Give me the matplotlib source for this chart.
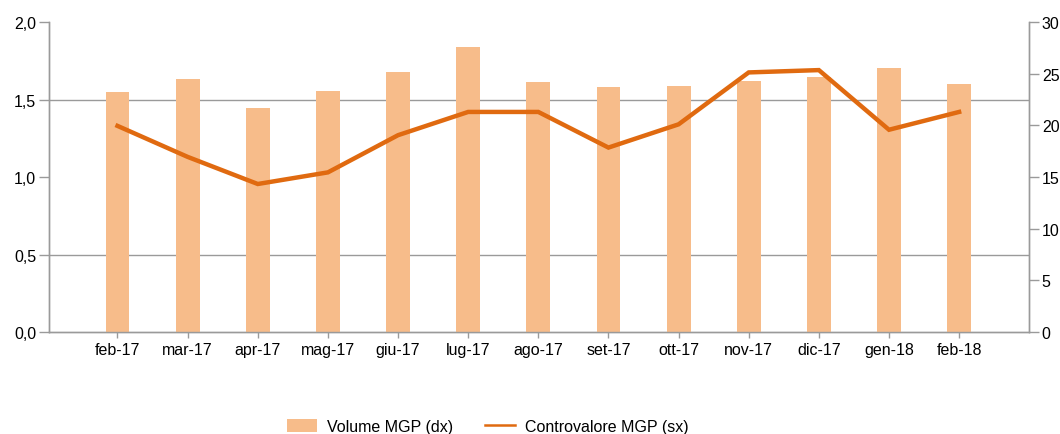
import matplotlib
matplotlib.use('Agg')
import matplotlib.pyplot as plt
import matplotlib.ticker as ticker
from matplotlib.patches import Patch
from matplotlib.lines import Line2D
import numpy as np

# dati
mesi = ['feb-17', 'mar-17', 'apr-17', 'mag-17', 'giu-17', 'lug-17', 'ago-17',
        'set-17', 'ott-17', 'nov-17', 'dic-17', 'gen-18', 'feb-18']
volume_mgp = [23.2, 24.5, 21.7, 23.3, 25.2, 27.6, 24.2, 23.7, 23.8, 24.3, 24.7, 25.6, 24.0]
controvalore_mgp = [1.33, 1.13, 0.955, 1.03, 1.27, 1.42, 1.42, 1.19, 1.34, 1.675, 1.69, 1.305, 1.42]

bar_color = '#F7BC8A'
line_color = '#E06A10'
grid_color = '#9A9A9A'

plt.rcParams['font.family'] = ['Liberation Sans', 'DejaVu Sans']

fig = plt.figure(figsize=(10.6, 4.35), dpi=100)
ax1 = fig.add_axes([0.046, 0.2345, 0.925, 0.7125])  # asse sx: controvalore
ax2 = ax1.twinx()                                    # asse dx: volume
ax1.set_zorder(ax2.get_zorder() + 1)
ax1.patch.set_visible(False)

x = np.arange(len(mesi))

# barre sull'asse destro
ax2.bar(x, volume_mgp, width=0.34, color=bar_color, zorder=3)
ax2.set_ylim(0, 30)
ax2.set_yticks(np.arange(0, 31, 5))
# griglia allineata ai tick dell'asse sinistro (0,5 -> 7,5)
ax2.yaxis.set_minor_locator(ticker.FixedLocator(np.arange(0.5, 2.01, 0.5) * 15))
ax2.grid(which='minor', axis='y', color=grid_color, linewidth=1.0, zorder=0)
ax2.set_axisbelow(True)
ax2.tick_params(axis='y', which='major', direction='out', length=7, width=1,
                color=grid_color, labelsize=11.5, pad=2)
ax2.tick_params(axis='y', which='minor', length=0)

# linea sull'asse sinistro
ax1.plot(x, controvalore_mgp, color=line_color, linewidth=3.2, zorder=5,
         solid_joinstyle='miter')
ax1.set_ylim(0, 2.0)
ax1.set_yticks(np.arange(0, 2.01, 0.5))
ax1.yaxis.set_major_formatter(
    ticker.FuncFormatter(lambda v, p: f'{v:.1f}'.replace('.', ',')))
ax1.tick_params(axis='y', direction='out', length=7, width=1, color=grid_color,
                labelsize=11.5, pad=2)
ax1.set_xticks(x)
ax1.set_xticklabels(mesi)
ax1.tick_params(axis='x', direction='out', length=4, width=1, color=grid_color,
                labelsize=11.5, pad=3)
ax1.set_xlim(-0.98, 13.0)

for ax in (ax1, ax2):
    ax.spines['top'].set_visible(False)
    for s in ('left', 'right', 'bottom'):
        ax.spines[s].set_color(grid_color)
        ax.spines[s].set_linewidth(1.0)

# legenda
handles = [Patch(facecolor=bar_color, edgecolor='none'),
           Line2D([0], [0], color=line_color, linewidth=1.8)]
labels = ['Volume MGP (dx)', 'Controvalore MGP (sx)']
fig.legend(handles, labels, loc='center', bbox_to_anchor=(0.46, 0.018), ncol=2,
           frameon=False, fontsize=11.5, handlelength=1.9, handleheight=0.9,
           columnspacing=2.0, handletextpad=0.6)

fig.savefig('out.png', dpi=100)
